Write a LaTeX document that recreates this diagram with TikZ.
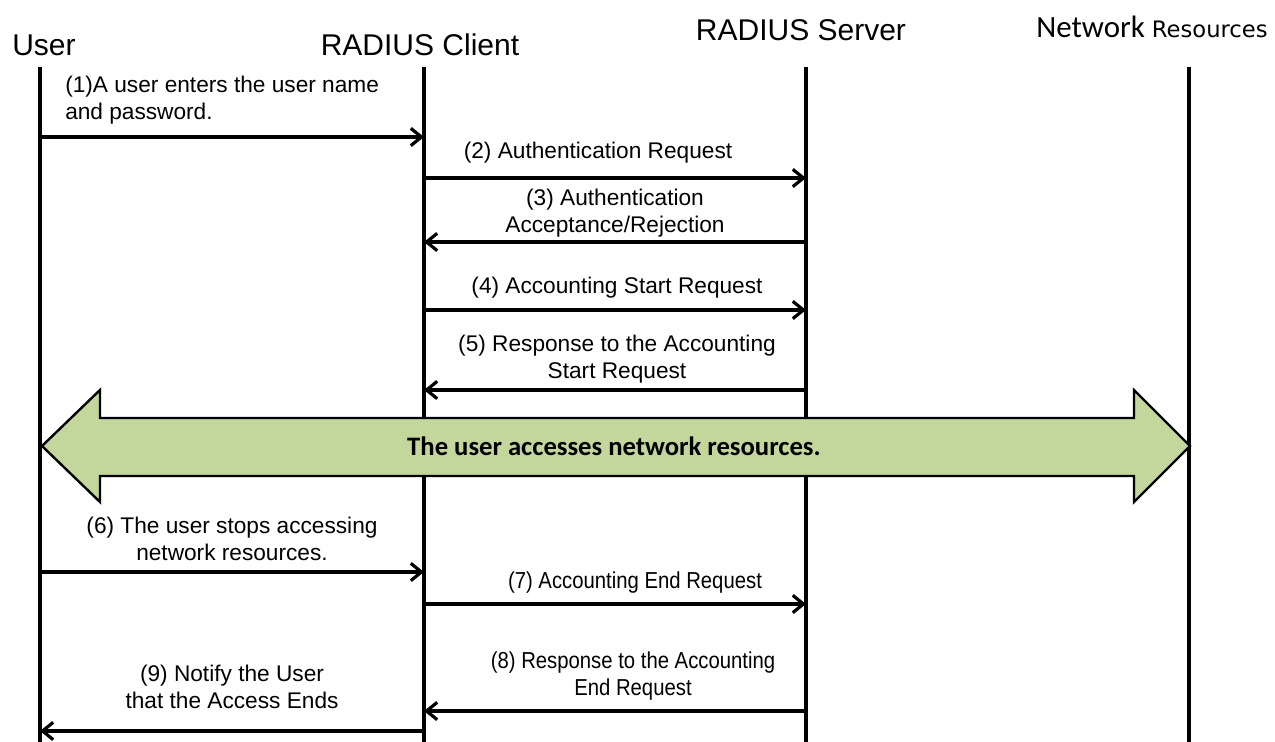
\documentclass[tikz,border=0pt]{standalone}
\usepackage{fontspec}
\setmainfont{Liberation Sans}
\newfontfamily\calfont{Carlito}
\newfontfamily\widefont{DejaVu Sans}
\newfontfamily\narrowfont[FakeStretch=0.88]{Liberation Sans}
\usepackage{tikz}
\usetikzlibrary{arrows, arrows.meta, positioning}
\definecolor{accessgreen}{RGB}{195,214,155}
\tikzstyle{head} = [inner sep = 0, font = \fontsize{22.5}{24}\selectfont]
\tikzstyle{life} = [line width = 2.4pt]
\tikzstyle{msg} = [-{Straight Barb[length = 8pt, width = 13pt]},
  line width = 2.4pt]
\tikzstyle{lbl} = [inner sep = 0, align = center,
  font = \fontsize{17}{20.3}\selectfont]
\tikzstyle{nlbl} = [inner sep = 0, align = center,
  font = \narrowfont\fontsize{17.3}{20.3}\selectfont]

\begin{document}
\begin{tikzpicture}[x = 0.75pt, y = -0.75pt]
      \useasboundingbox (0, 0) rectangle (1275, 742);

      % lifeline heads
      \node [head] (user) at (44, 45) {User};
      \node [head] (client) at (420, 45) {RADIUS Client};
      \node [head] (server) at (801, 30) {RADIUS Server};
      \node [head, font = \calfont\fontsize{23.2}{24}\selectfont] (netres)
        at (1152, 27) {Network {\widefont\fontsize{17}{20}\selectfont Resources}};

      \coordinate (user-top) at (40, 67);
      \coordinate (client-top) at (424, 67);
      \coordinate (server-top) at (806, 67);
      \coordinate (netres-top) at (1189, 67);
      \coordinate (bottom) at (0, 742);

      \draw [life] (user-top) -- (user-top |- bottom);
      \draw [life] (client-top) -- (client-top |- bottom);
      \draw [life] (server-top) -- (server-top |- bottom);
      \draw [life] (netres-top) -- (netres-top |- bottom);

      % message heights
      \coordinate (m1) at (0, 137);
      \coordinate (m2) at (0, 178);
      \coordinate (m3) at (0, 242);
      \coordinate (m4) at (0, 310);
      \coordinate (m5) at (0, 390);
      \coordinate (m6) at (0, 572);
      \coordinate (m7) at (0, 604);
      \coordinate (m8) at (0, 711);
      \coordinate (m9) at (0, 731);

      \draw [msg] (user-top |- m1) -- (client-top |- m1);
      \draw [msg] (client-top |- m2) -- (server-top |- m2);
      \draw [msg] (server-top |- m3) -- (client-top |- m3);
      \draw [msg] (client-top |- m4) -- (server-top |- m4);
      \draw [msg] (server-top |- m5) -- (client-top |- m5);
      \draw [msg] (user-top |- m6) -- (client-top |- m6);
      \draw [msg] (client-top |- m7) -- (server-top |- m7);
      \draw [msg] (server-top |- m8) -- (client-top |- m8);
      \draw [msg] (client-top |- m9) -- (user-top |- m9);

      % labels
      \node [lbl, align = left, anchor = west] (txt1) at (65, 100)
        {(1)A user enters the user name\\and password.};
      \node [lbl] (txt2) at (598, 153) {(2) Authentication Request};
      \node [lbl] (txt3) at (615, 213) {(3) Authentication\\Acceptance/Rejection};
      \node [lbl] (txt4) at (617, 288) {(4) Accounting Start Request};
      \node [lbl] (txt5) at (617, 359)
        {(5) Response to the Accounting\\Start Request};
      \node [lbl] (txt6) at (232, 539)
        {(6) The user stops accessing\\network resources.};
      \node [nlbl] (txt7) at (635, 583) {(7) Accounting End Request};
      \node [nlbl] (txt8) at (633, 676)
        {(8) Response to the Accounting\\\hspace*{0pt}End Request};
      \node [lbl] (txt9) at (232, 687)
        {(9) Notify the User\\that the Access Ends};

      % access arrow
      \filldraw [fill = accessgreen, line width = 1.8pt, line join = miter]
        (42, 446) -- (100, 390) -- (100, 418) -- (1134, 418) -- (1134, 390)
        -- (1190, 446) -- (1134, 502) -- (1134, 476) -- (100, 476)
        -- (100, 502) -- cycle;
      \node [font = \calfont\bfseries\fontsize{20}{22}\selectfont]
        (access) at (614, 446) {The user accesses network resources.};
\end{tikzpicture}
\end{document}
